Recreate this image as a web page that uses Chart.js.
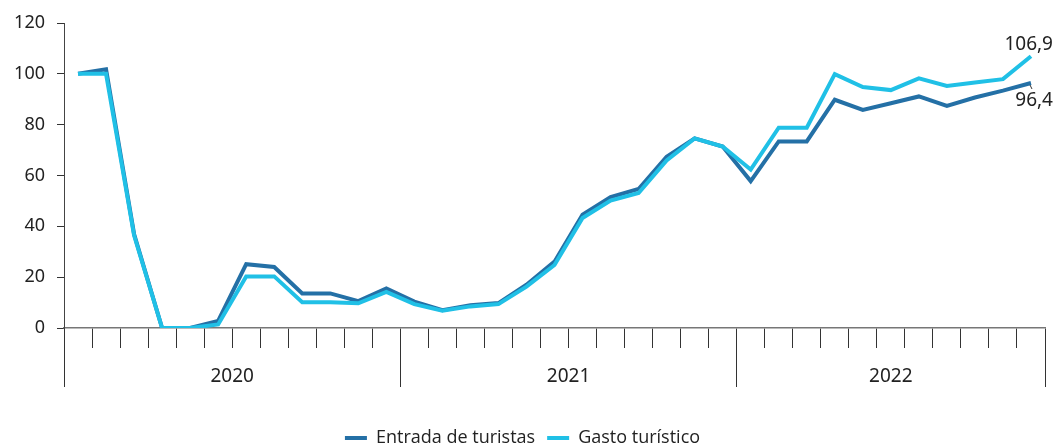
<!DOCTYPE html>
<html>
<head>
<meta charset="utf-8">
<script src="https://cdn.jsdelivr.net/npm/chart.js@4"></script>
<style>
  html, body { margin: 0; padding: 0; background: #fff; }
  #wrap { width: 1056px; height: 446px; }
</style>
</head>
<body>
<div id="wrap"><canvas id="c" width="1056" height="446"></canvas></div>
<script>
// Months Jan 2020 - Nov 2022
const months = [
  '2020-01','2020-02','2020-03','2020-04','2020-05','2020-06','2020-07','2020-08','2020-09','2020-10','2020-11','2020-12',
  '2021-01','2021-02','2021-03','2021-04','2021-05','2021-06','2021-07','2021-08','2021-09','2021-10','2021-11','2021-12',
  '2022-01','2022-02','2022-03','2022-04','2022-05','2022-06','2022-07','2022-08','2022-09','2022-10','2022-11'
];
const years = ['2020', '2021', '2022'];
const entradaTuristas = [
  100, 101.8, 37, 0, 0, 2.8, 25.1, 24, 13.6, 13.6, 10.6, 15.6,
  10.4, 7.0, 9.0, 9.8, 17.0, 26.1, 44.6, 51.5, 54.7, 67.4, 74.6, 71.4,
  57.8, 73.4, 73.4, 89.8, 85.8, 88.4, 91.1, 87.4, 90.7, 93.4, 96.4
];
const gastoTuristico = [
  100, 100, 36.5, 0, 0, 1.4, 20.3, 20.3, 10.1, 10.1, 9.7, 14.2,
  9.4, 6.8, 8.5, 9.4, 16.3, 24.8, 43.3, 50.1, 53.1, 65.9, 74.6, 71.4,
  62.3, 78.8, 78.8, 99.9, 94.8, 93.6, 98.2, 95.2, 96.6, 97.9, 106.9
];
const yTicks = [0, 20, 40, 60, 80, 100, 120];

const C_DARK = '#2470a6';
const C_LIGHT = '#20c0e6';
const TXT = '#222222';

// boundaries of year groups (in month-index units, category offset)
const yearBoundaries = [-0.5, 11.5, 23.5, months.length - 0.5];

const yearLabelsPlugin = {
  id: 'yearLabels',
  afterDraw(chart) {
    const ctx = chart.ctx;
    const x2 = chart.scales.x2;
    ctx.save();
    ctx.fillStyle = TXT;
    ctx.font = '19px "Noto Sans", sans-serif';
    ctx.textAlign = 'center';
    ctx.textBaseline = 'middle';
    years.forEach((y, i) => {
      const a = yearBoundaries[i], b = yearBoundaries[i + 1];
      const px = (x2.getPixelForValue(a) + x2.getPixelForValue(b)) / 2;
      ctx.fillText(y, px, x2.top + 29);
    });
    // end labels
    const last = months.length - 1;
    const m0 = chart.getDatasetMeta(0).data[last];
    const m1 = chart.getDatasetMeta(1).data[last];
    const fmt = v => v.toFixed(1).replace('.', ',');
    ctx.textAlign = 'right';
    ctx.textBaseline = 'bottom';
    ctx.fillText(fmt(gastoTuristico[last]), m1.x + 22, m1.y - 2);
    ctx.textBaseline = 'top';
    ctx.fillText(fmt(entradaTuristas[last]), m0.x + 22, m0.y + 8);
    // small leader mark under the last dark point
    ctx.strokeStyle = '#333';
    ctx.lineWidth = 1;
    ctx.beginPath();
    ctx.moveTo(m0.x - 1, m0.y + 2);
    ctx.lineTo(m0.x + 1, m0.y + 6);
    ctx.stroke();
    ctx.restore();
  }
};

new Chart(document.getElementById('c'), {
  type: 'line',
  data: {
    labels: months,
    datasets: [
      {
        label: 'Entrada de turistas',
        data: entradaTuristas,
        borderColor: C_DARK,
        backgroundColor: C_DARK,
        borderWidth: 4,
        pointRadius: 0,
        tension: 0,
        order: 2
      },
      {
        label: 'Gasto turístico',
        data: gastoTuristico,
        borderColor: C_LIGHT,
        backgroundColor: C_LIGHT,
        borderWidth: 4,
        pointRadius: 0,
        tension: 0,
        order: 1
      }
    ]
  },
  options: {
    responsive: false,
    animation: false,
    devicePixelRatio: 1,
    layout: { padding: { top: 23, right: 11, bottom: -11, left: 0 } },
    plugins: {
      tooltip: { enabled: false },
      legend: {
        position: 'bottom',
        labels: {
          color: TXT,
          font: { family: '"Open Sans", sans-serif', size: 18 },
          boxWidth: 22,
          boxHeight: 4,
          padding: 12,
          sort: (a, b) => a.datasetIndex - b.datasetIndex,
          generateLabels(chart) {
            const items = Chart.defaults.plugins.legend.labels.generateLabels(chart);
            return items.map(it => Object.assign(it, { lineWidth: 0, fillStyle: it.strokeStyle }));
          }
        }
      }
    },
    scales: {
      x: {
        type: 'category',
        offset: true,
        grid: { offset: true, drawOnChartArea: false, drawTicks: true, tickLength: 20, color: '#333', lineWidth: 1 },
        border: { display: true, color: '#777', width: 1.5 },
        ticks: { display: false }
      },
      x2: {
        type: 'linear',
        position: 'bottom',
        min: -0.5,
        max: months.length - 0.5,
        afterBuildTicks(scale) { scale.ticks = yearBoundaries.map(v => ({ value: v })); },
        afterFit(scale) { scale.height = 69; },
        grid: { drawOnChartArea: false, drawTicks: true, tickLength: 39, color: '#333', lineWidth: 1 },
        border: { display: false },
        ticks: { display: false }
      },
      y: {
        min: 0,
        max: 120,
        afterBuildTicks(scale) { scale.ticks = yTicks.map(v => ({ value: v })); },
        afterFit(scale) { scale.width = 64; },
        grid: { drawOnChartArea: false, drawTicks: true, tickLength: 7, color: '#333' },
        border: { display: true, color: '#444', width: 1 },
        ticks: { color: TXT, padding: 12, font: { family: '"Noto Sans", sans-serif', size: 18 } }
      }
    }
  },
  plugins: [yearLabelsPlugin]
});
</script>
</body>
</html>
